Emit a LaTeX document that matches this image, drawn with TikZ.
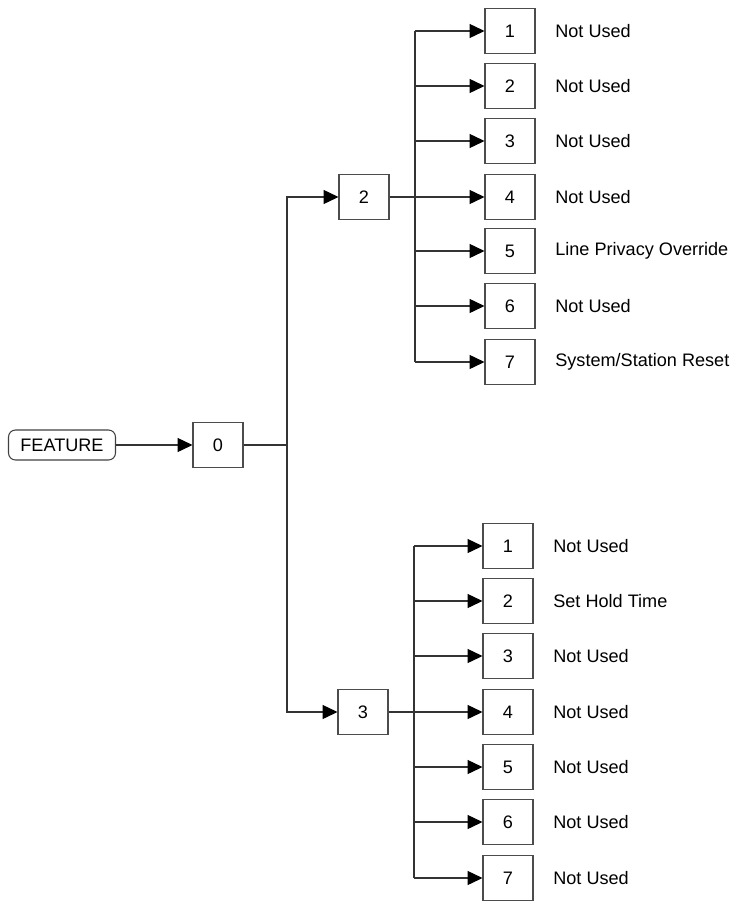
\documentclass[tikz,border=0pt]{standalone}
\usepackage{fontspec}
\setmainfont{Liberation Sans}
\usetikzlibrary{arrows.meta}

\begin{document}
\begin{tikzpicture}[x=0.02cm,y=-0.02cm,
  every node/.style={font=\fontsize{10.3}{12}\selectfont},
  keybox/.style={draw=black!70,line width=0.6pt,inner sep=0pt,minimum width=1cm,minimum height=0.9cm},
  wire/.style={draw=black!80,line width=0.6pt},
  arr/.style={wire,-{Triangle[length=8.5pt,width=8pt,color=black]}},
  note/.style={anchor=west,inner sep=0pt}]

  \useasboundingbox (0,0) rectangle (736,903);

  % Feature key and first digit
  \node[draw=black!75,line width=0.6pt,rounded corners=4pt,inner sep=0pt,
        minimum width=2.14cm,minimum height=0.6cm] (feat) at (62,445) {FEATURE};
  \node[keybox] (d0) at (218,445) {0};
  \draw[arr] (feat) -- (d0);

  % Second digit
  \node[keybox] (d2) at (364,197) {2};
  \node[keybox] (d3) at (363,712) {3};
  \coordinate (trunk) at (287,445);
  \draw[wire] (d0) -- (trunk);
  \draw[arr] (trunk) |- (d2);
  \draw[arr] (trunk) |- (d3);

  % Third digit after 2
  \foreach \n/\y/\txt in {1/31/Not Used, 2/86/Not Used, 3/141/Not Used,
      4/197/Not Used, 5/251/Line Privacy Override, 6/306/Not Used,
      7/362/{System/Station Reset}} {
    \node[keybox] (u\n) at (510,\y) {\n};
    \node[note] (ut\n) at (555,\y) {\txt};
    \coordinate (ub\n) at (415,\y);
    \draw[arr] (ub\n) -- (u\n);
  }
  \draw[wire] (ub1) -- (ub7);
  \draw[wire] (d2) -- (ub4);

  % Third digit after 3
  \foreach \n/\y/\txt in {1/546/Not Used, 2/601/Set Hold Time, 3/656/Not Used,
      4/712/Not Used, 5/767/Not Used, 6/822/Not Used, 7/878/Not Used} {
    \node[keybox] (l\n) at (508,\y) {\n};
    \node[note] (lt\n) at (553,\y) {\txt};
    \coordinate (lb\n) at (414,\y);
    \draw[arr] (lb\n) -- (l\n);
  }
  \draw[wire] (lb1) -- (lb7);
  \draw[wire] (d3) -- (lb4);

\end{tikzpicture}
\end{document}
